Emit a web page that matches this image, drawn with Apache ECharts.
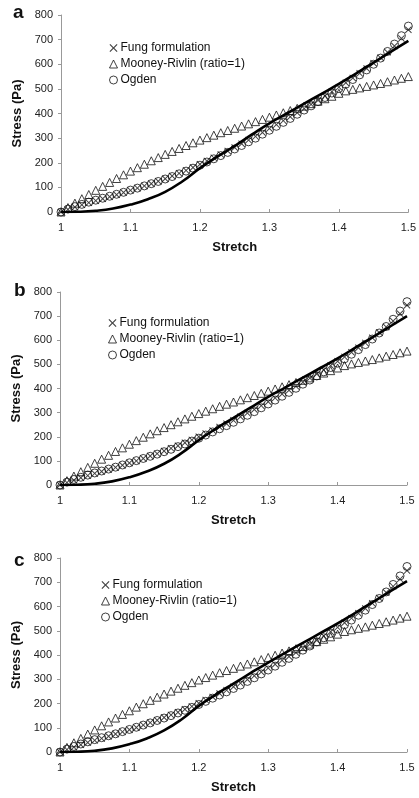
<!DOCTYPE html>
<html>
<head>
<meta charset="utf-8">
<script src="https://cdn.jsdelivr.net/npm/echarts@6/dist/echarts.min.js"></script>
<style>
  html, body { margin: 0; padding: 0; background: #fff; }
  #chart { width: 419px; height: 798px; }
</style>
</head>
<body>
<div id="chart"></div>
<script>
// stretch values for the model markers (every 0.01)
const stretch = [
  1.00, 1.01, 1.02, 1.03, 1.04, 1.05, 1.06, 1.07, 1.08, 1.09,
  1.10, 1.11, 1.12, 1.13, 1.14, 1.15, 1.16, 1.17, 1.18, 1.19,
  1.20, 1.21, 1.22, 1.23, 1.24, 1.25, 1.26, 1.27, 1.28, 1.29,
  1.30, 1.31, 1.32, 1.33, 1.34, 1.35, 1.36, 1.37, 1.38, 1.39,
  1.40, 1.41, 1.42, 1.43, 1.44, 1.45, 1.46, 1.47, 1.48, 1.49,
  1.50
]
// stretch values for the thick solid curve
const stretchLine = [
  1.000, 1.025, 1.050, 1.075, 1.100, 1.125, 1.150, 1.175, 1.200, 1.225,
  1.250, 1.275, 1.300, 1.325, 1.350, 1.375, 1.400, 1.425, 1.450, 1.475, 1.500
]
const panelLabels = ['a', 'b', 'c']
const legendNames = ['Fung formulation', 'Mooney-Rivlin (ratio=1)', 'Ogden']

// panel a
const solidA = [0, 1, 5, 14, 30, 52, 82, 125, 178, 225, 268, 315, 360, 400, 440, 480, 520, 563, 607, 651, 695]
const fungA = [
  0, 10, 20, 29, 38, 46, 54, 62, 70, 79,
  88, 97, 106, 115, 125, 135, 146, 157, 169, 181,
  194, 207, 220, 234, 248, 262, 277, 292, 307, 323,
  339, 355, 371, 387, 403, 420, 437, 454, 471, 489,
  507, 525, 544, 563, 583, 604, 626, 649, 674, 705,
  740
]
const mooneyA = [
  0, 18, 36, 54, 71, 88, 104, 120, 136, 151,
  166, 180, 194, 208, 221, 234, 246, 258, 270, 281,
  292, 302, 312, 322, 331, 340, 349, 358, 367, 376,
  385, 394, 403, 412, 421, 430, 440, 450, 460, 470,
  482, 492, 498, 504, 510, 516, 522, 529, 536, 543,
  550
]
const ogdenA = [
  0, 12, 22, 31, 40, 48, 56, 64, 72, 80,
  89, 97, 106, 115, 124, 134, 144, 155, 166, 178,
  190, 203, 216, 229, 242, 256, 270, 285, 300, 316,
  332, 348, 364, 380, 397, 414, 431, 448, 465, 483,
  501, 519, 538, 557, 577, 600, 625, 652, 682, 716,
  755
]

// panel b
const solidB = [0, 1, 5, 15, 32, 56, 88, 132, 186, 234, 278, 322, 365, 405, 445, 485, 525, 568, 612, 656, 700]
const fungB = [
  0, 10, 20, 30, 39, 48, 56, 64, 73, 82,
  91, 100, 110, 120, 130, 141, 152, 163, 175, 187,
  200, 213, 226, 240, 254, 268, 283, 298, 313, 329,
  345, 361, 377, 393, 409, 426, 443, 460, 477, 495,
  513, 531, 550, 569, 589, 610, 632, 655, 680, 710,
  745
]
const mooneyB = [
  0, 18, 37, 55, 73, 90, 107, 123, 139, 154,
  169, 184, 198, 212, 225, 238, 250, 262, 274, 285,
  296, 306, 316, 326, 335, 344, 353, 362, 371, 380,
  389, 398, 407, 416, 425, 434, 444, 454, 464, 474,
  485, 495, 502, 508, 514, 520, 527, 534, 541, 548,
  555
]
const ogdenB = [
  0, 12, 23, 32, 41, 50, 58, 66, 74, 83,
  92, 101, 110, 119, 128, 138, 148, 159, 170, 182,
  194, 207, 220, 233, 246, 260, 274, 289, 304, 320,
  336, 352, 368, 384, 401, 418, 435, 452, 469, 487,
  505, 523, 542, 561, 582, 605, 630, 657, 687, 721,
  760
]

// panel c
const solidC = [0, 1, 5, 15, 32, 56, 89, 134, 190, 238, 282, 326, 369, 410, 450, 490, 530, 573, 617, 661, 705]
const fungC = [
  0, 10, 20, 30, 39, 48, 56, 65, 74, 83,
  92, 101, 111, 121, 131, 142, 153, 164, 176, 188,
  201, 214, 227, 241, 255, 269, 284, 299, 314, 330,
  346, 362, 378, 394, 410, 427, 444, 461, 478, 496,
  514, 533, 552, 572, 592, 613, 635, 658, 683, 713,
  748
]
const mooneyC = [
  0, 19, 38, 56, 74, 91, 108, 124, 140, 155,
  170, 185, 199, 213, 226, 239, 251, 263, 275, 286,
  297, 307, 317, 327, 336, 345, 354, 363, 372, 381,
  390, 399, 408, 417, 426, 435, 445, 455, 465, 475,
  486, 497, 504, 510, 516, 523, 530, 537, 544, 552,
  560
]
const ogdenC = [
  0, 12, 23, 33, 42, 51, 59, 67, 75, 84,
  93, 102, 111, 120, 130, 140, 150, 161, 172, 184,
  196, 209, 222, 235, 248, 262, 276, 291, 306, 322,
  338, 354, 370, 386, 403, 420, 437, 454, 471, 489,
  507, 525, 544, 564, 585, 608, 633, 660, 691, 726,
  765
]

const panels = [
  { solid: solidA, fung: fungA, mooney: mooneyA, ogden: ogdenA },
  { solid: solidB, fung: fungB, mooney: mooneyB, ogden: ogdenB },
  { solid: solidC, fung: fungC, mooney: mooneyC, ogden: ogdenC },
]

// grid placement for each panel
const grids = [
  { left: 61, top: 15, width: 349, height: 197 },
  { left: 60, top: 292, width: 347, height: 193 },
  { left: 60, top: 558, width: 347, height: 194 },
]
const legendPos = [
  { left: 109, top: 42 },
  { left: 108, top: 317 },
  { left: 101, top: 579 },
]
const letterPos = [
  { left: 13, top: 3 },
  { left: 14, top: 281 },
  { left: 14, top: 551 },
]

const FONT = 'Liberation Sans, Arial, sans-serif'
const crossPath = 'path://M0,1L1,0L5,4L9,0L10,1L6,5L10,9L9,10L5,6L1,10L0,9L4,5Z'

function pairs(xs, ys) {
  return xs.map(function (x, i) { return [x, ys[i]] })
}

const chart = echarts.init(document.getElementById('chart'))

const option = {
  animation: false,
  backgroundColor: '#fff',
  title: panelLabels.map(function (t, i) {
    return {
      text: t,
      left: letterPos[i].left,
      top: letterPos[i].top,
      padding: 0,
      textStyle: { fontFamily: FONT, fontSize: 19, fontWeight: 'bold', color: '#111' },
    }
  }),
  legend: legendPos.map(function (p) {
    return {
      data: legendNames,
      orient: 'vertical',
      left: p.left,
      top: p.top,
      padding: 0,
      itemWidth: 8,
      itemHeight: 8,
      itemGap: 4,
      selectedMode: false,
      itemStyle: { borderWidth: 1 },
      textStyle: { fontFamily: FONT, fontSize: 12, color: '#111', padding: [0, 0, 0, -2] },
    }
  }),
  grid: grids,
  xAxis: grids.map(function (g, i) {
    return {
      type: 'value',
      gridIndex: i,
      min: 1,
      max: 1.5,
      interval: 0.1,
      name: 'Stretch',
      nameLocation: 'middle',
      nameGap: 29,
      nameTextStyle: { fontFamily: FONT, fontSize: 13, fontWeight: 'bold', color: '#111' },
      axisLine: { lineStyle: { color: '#999', width: 1 } },
      axisTick: { show: true, inside: true, length: 3, lineStyle: { color: '#999' } },
      axisLabel: { fontFamily: FONT, fontSize: 11, color: '#222', margin: 10 },
      splitLine: { show: false },
    }
  }),
  yAxis: grids.map(function (g, i) {
    return {
      type: 'value',
      gridIndex: i,
      min: 0,
      max: 800,
      interval: 100,
      name: 'Stress (Pa)',
      nameLocation: 'middle',
      nameGap: 37,
      nameTextStyle: { fontFamily: FONT, fontSize: 13, fontWeight: 'bold', color: '#111' },
      axisLine: { show: true, lineStyle: { color: '#999', width: 1 } },
      axisTick: { show: true, length: 3, lineStyle: { color: '#999' } },
      axisLabel: { fontFamily: FONT, fontSize: 11, color: '#222', margin: 8 },
      splitLine: { show: false },
    }
  }),
  series: [],
}

panels.forEach(function (p, i) {
  option.series.push({
    name: 'Fung formulation',
    type: 'scatter',
    xAxisIndex: i,
    yAxisIndex: i,
    symbol: crossPath,
    symbolSize: 7,
    itemStyle: { color: '#111' },
    data: pairs(stretch, p.fung),
    z: 2,
  })
  option.series.push({
    name: 'Mooney-Rivlin (ratio=1)',
    type: 'scatter',
    xAxisIndex: i,
    yAxisIndex: i,
    symbol: 'triangle',
    symbolSize: 8,
    itemStyle: { color: 'rgba(0,0,0,0)', borderColor: '#111', borderWidth: 1 },
    data: pairs(stretch, p.mooney),
    z: 3,
  })
  option.series.push({
    name: 'Ogden',
    type: 'scatter',
    xAxisIndex: i,
    yAxisIndex: i,
    symbol: 'circle',
    symbolSize: 8,
    itemStyle: { color: 'rgba(0,0,0,0)', borderColor: '#111', borderWidth: 1 },
    data: pairs(stretch, p.ogden),
    z: 3,
  })
  option.series.push({
    name: 'data',
    type: 'line',
    xAxisIndex: i,
    yAxisIndex: i,
    smooth: true,
    symbol: 'none',
    lineStyle: { color: '#000', width: 2.6 },
    data: pairs(stretchLine, p.solid),
    z: 4,
  })
})

chart.setOption(option)
</script>
</body>
</html>
